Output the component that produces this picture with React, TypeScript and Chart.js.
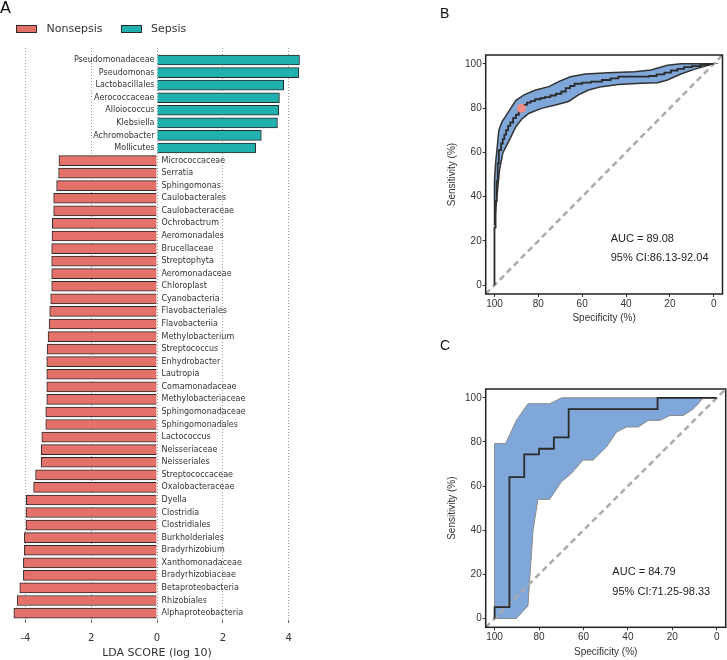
import React, { useEffect, useRef } from 'react';
import { Chart, registerables } from 'chart.js';

Chart.register(...registerables);

// ---------- Panel A: LEfSe LDA scores ----------
const sepsisTaxa = [
  'Pseudomonadaceae', 'Pseudomonas', 'Lactobacillales', 'Aerococcaceae',
  'Alloiococcus', 'Klebsiella', 'Achromobacter', 'Mollicutes',
];
const sepsisLDA = [4.33, 4.31, 3.85, 3.72, 3.7, 3.66, 3.17, 3.0];

const nonsepsisTaxa = [
  'Micrococcaceae', 'Serratia', 'Sphingomonas', 'Caulobacterales', 'Caulobacteraceae',
  'Ochrobactrum', 'Aeromonadales', 'Brucellaceae', 'Streptophyta', 'Aeromonadaceae',
  'Chloroplast', 'Cyanobacteria', 'Flavobacteriales', 'Flavobacteriia', 'Methylobacterium',
  'Streptococcus', 'Enhydrobacter', 'Lautropia', 'Comamonadaceae', 'Methylobacteriaceae',
  'Sphingomonadaceae', 'Sphingomonadales', 'Lactococcus', 'Neisseriaceae', 'Neisseriales',
  'Streptococcaceae', 'Oxalobacteraceae', 'Dyella', 'Clostridia', 'Clostridiales',
  'Burkholderiales', 'Bradyrhizobium', 'Xanthomonadaceae', 'Bradyrhizobiaceae',
  'Betaproteobacteria', 'Rhizobiales', 'Alphaproteobacteria',
];
const nonsepsisLDA = [
  2.98, 2.99, 3.05, 3.14, 3.14,
  3.18, 3.19, 3.2, 3.2, 3.2,
  3.2, 3.23, 3.26, 3.28, 3.31,
  3.34, 3.35, 3.35, 3.35, 3.35,
  3.38, 3.38, 3.5, 3.52, 3.52,
  3.69, 3.75, 3.97, 3.98, 3.98,
  4.03, 4.03, 4.06, 4.06,
  4.17, 4.25, 4.35,
];
const ldaTicks = [-4, -2, 0, 2, 4];
const ldaTickLabels = ['-4', '2', '0', '2', '4'];

// ---------- Panels B and C: ROC curves ----------
const rocTicks = [0, 20, 40, 60, 80, 100];
const diagSpec = [104, -4];
const diagSens = [-4, 104];

// B
const bCurveSpec = [100, 100, 99.5, 99, 98.5, 98, 97, 96.2, 95.5, 94.7, 93.8, 92.8, 91.5, 90.2, 88.9, 87.7, 86.5, 85.2, 83.5, 81.5, 79, 77, 74.5, 72, 69.5, 67.5, 65.5, 63.5, 60, 56, 51, 47, 43.5, 38, 33, 29.5, 26, 22.5, 19.5, 16.5, 13.5, 10, 6, 3, 0];
const bCurveSens = [0, 26, 38, 47, 55, 61, 64, 66, 68, 70, 72, 73.5, 75.5, 77, 78.5, 80, 81.5, 82.5, 83.2, 84, 84.5, 85, 85.7, 86.5, 87.5, 89, 90, 91, 91.5, 92, 92.7, 93.4, 94.2, 94.2, 94.2, 94.5, 95.2, 96, 97, 97.7, 98.5, 99, 99.6, 100, 100];
const bUpperSpec = [100, 99.5, 98.7, 98, 96.5, 95.5, 93.2, 90.2, 86.5, 81.2, 75.2, 70.7, 65.4, 58.6, 48.1, 36.1, 28.6, 21.1, 15, 0];
const bUpperSens = [47, 55, 63, 70, 74, 75.4, 79, 83.5, 86, 88.2, 89.7, 92, 94.2, 95.4, 96, 96.4, 97.2, 99.4, 100, 100];
const bLowerSpec = [100, 99.2, 97.7, 96.2, 94.7, 92.5, 90.2, 87.2, 84.2, 78.2, 72.2, 66.2, 61.7, 57.1, 51.1, 43.6, 33.1, 25.6, 21.1, 15, 9, 0];
const bLowerSens = [27, 37, 52, 59.7, 62.7, 67, 71.7, 75.4, 77.7, 80, 81.4, 83, 86, 88.2, 89.7, 90.7, 91.2, 91.5, 92.7, 95.4, 97.5, 100];
const bCutoffSpec = [87.7];
const bCutoffSens = [79.9];
const bStats = ['AUC = 89.08', '95% CI:86.13-92.04'];

// C
const cCurveSpec = [100, 100, 93.33, 86.67, 80, 73.33, 66.67, 26.67, 0];
const cCurveSens = [0, 5.13, 64.1, 74.36, 76.92, 82.05, 94.87, 100, 100];
const cUpperSpec = [100, 95, 90.2, 85, 75.2, 69.9, 0];
const cUpperSens = [79.3, 79.3, 89.8, 97.3, 97.3, 100, 100];
const cLowerSpec = [100, 90.2, 85, 82.7, 80.5, 75.2, 69.9, 65.4, 60.2, 55.6, 49.6, 45.1, 40.6, 35.3, 30.8, 25.6, 21.1, 15, 10.5, 6, 0];
const cLowerSens = [0, 0, 5.7, 40, 54, 54, 62, 65.8, 71.8, 71.8, 77.8, 84.5, 86.8, 86.8, 89.8, 89.8, 92, 92, 95, 100, 100];
const cStats = ['AUC = 84.79', '95% CI:71.25-98.33'];

const statsSpec = 47;
const statsSens = [21, 12.2];

const pts = (xs: number[], ys: number[]) => xs.map((x, i) => ({ x, y: ys[i] }));

function barConfig(): any {
  const taxaLabels = {
    id: 'taxaLabels',
    afterDatasetsDraw(chart: any) {
      const { ctx, scales } = chart;
      const x0 = scales.x.getPixelForValue(0);
      ctx.save();
      ctx.font = '8px "DejaVu Sans"';
      ctx.fillStyle = '#333';
      ctx.textBaseline = 'middle';
      ctx.textAlign = 'right';
      sepsisTaxa.forEach((t, i) => ctx.fillText(t, x0 - 2.5, scales.y.getPixelForValue(i)));
      ctx.textAlign = 'left';
      nonsepsisTaxa.forEach((t, i) =>
        ctx.fillText(t, x0 + 4.5, scales.y.getPixelForValue(sepsisTaxa.length + i)),
      );
      ctx.restore();
    },
  };
  return {
    type: 'bar',
    data: {
      datasets: [
        {
          label: 'Sepsis',
          data: sepsisLDA.map((v, i) => ({ x: v, y: i })),
          backgroundColor: '#21B0AD',
          borderColor: '#2a2a2a',
          borderWidth: 1,
          barThickness: 10,
          grouped: false,
        },
        {
          label: 'Nonsepsis',
          data: nonsepsisLDA.map((v, i) => ({ x: -v, y: sepsisTaxa.length + i })),
          backgroundColor: '#E4716A',
          borderColor: '#2a2a2a',
          borderWidth: 1,
          barThickness: 10,
          grouped: false,
        },
      ],
    },
    options: {
      indexAxis: 'y',
      responsive: false,
      animation: false,
      layout: { padding: { left: 12.2, right: 8.2, top: 48, bottom: 0 } },
      plugins: { legend: { display: false }, tooltip: { enabled: false } },
      scales: {
        y: {
          type: 'linear',
          display: false,
          offset: false,
          bounds: 'data',
          grace: 0,
          min: -0.955,
          max: 44.55,
          reverse: true,
          afterBuildTicks: (s: any) => {
            s.ticks = [{ value: -0.955 }, { value: 44.55 }];
          },
        },
        x: {
          type: 'linear',
          min: -4.4,
          max: 4.4,
          offset: false,
          afterBuildTicks: (s: any) => {
            s.ticks = ldaTicks.map((v) => ({ value: v }));
          },
          afterFit: (s: any) => {
            s.height = 40;
          },
          ticks: {
            autoSkip: false,
            maxRotation: 0,
            padding: 9.5,
            color: '#333',
            font: { family: 'DejaVu Sans', size: 10 },
            callback: (_v: any, i: number) => ldaTickLabels[i],
          },
          grid: {
            color: '#9a9a9a',
            lineWidth: 1,
            drawTicks: true,
            tickLength: 3,
            tickColor: '#666',
            borderDash: [1, 2],
          },
          border: { display: false, dash: [1, 2] },
          title: {
            display: true,
            text: 'LDA SCORE (log 10)',
            color: '#333',
            font: { family: 'DejaVu Sans', size: 11 },
            padding: { top: 0, bottom: 0 },
          },
        },
      },
    },
    plugins: [taxaLabels],
  };
}

function rocConfig(p: {
  curveSpec: number[]; curveSens: number[];
  upperSpec: number[]; upperSens: number[];
  lowerSpec: number[]; lowerSens: number[];
  cutSpec: number[]; cutSens: number[];
  stats: string[];
  bandBorder: string; bandBorderWidth: number;
  padTop: number; xAxisH: number; titlePadBottom: number;
}): any {
  const upper = pts(p.upperSpec, p.upperSens);
  const lower = pts(p.lowerSpec, p.lowerSens).reverse();
  const band = [...upper, ...lower, upper[0]];
  const frameAndText = {
    id: 'frameAndText',
    afterDatasetsDraw(chart: any) {
      const { ctx, chartArea: a, scales } = chart;
      ctx.save();
      ctx.strokeStyle = '#222';
      ctx.lineWidth = 1.5;
      ctx.strokeRect(a.left, a.top, a.right - a.left, a.bottom - a.top);
      ctx.fillStyle = '#222';
      ctx.font = '11px "Liberation Sans"';
      ctx.textAlign = 'left';
      ctx.textBaseline = 'middle';
      p.stats.forEach((t, i) =>
        ctx.fillText(t, scales.x.getPixelForValue(statsSpec), scales.y.getPixelForValue(statsSens[i])),
      );
      ctx.restore();
    },
  };
  const axisCommon = {
    type: 'linear',
    min: -4,
    max: 104,
    offset: false,
    afterBuildTicks: (s: any) => {
      s.ticks = rocTicks.map((v) => ({ value: v }));
    },
    ticks: {
      autoSkip: false,
      maxRotation: 0,
      padding: 1,
      color: '#333',
      font: { family: 'Liberation Sans', size: 10 },
    },
    grid: {
      display: true,
      drawOnChartArea: false,
      drawTicks: true,
      tickLength: 3,
      tickColor: '#333',
      tickWidth: 1,
    },
    border: { display: false },
  };
  const datasets: any[] = [];
  if (p.cutSpec.length) {
    datasets.push({
      data: pts(p.cutSpec, p.cutSens),
      showLine: false,
      pointRadius: 4.5,
      pointBackgroundColor: '#F28C86',
      pointBorderWidth: 0,
    });
  }
  datasets.push(
    {
      data: pts(p.curveSpec, p.curveSens),
      borderColor: '#2b2b2b',
      borderWidth: 1.8,
      pointRadius: 0,
      stepped: 'before',
      fill: false,
    },
    {
      data: pts(diagSpec, diagSens),
      borderColor: '#ababab',
      borderWidth: 2.5,
      borderDash: [6, 4],
      pointRadius: 0,
      fill: false,
    },
    {
      data: band,
      borderColor: p.bandBorder,
      borderWidth: p.bandBorderWidth,
      backgroundColor: '#7FA7DA',
      pointRadius: 0,
      fill: 'shape',
      tension: 0,
    },
  );
  return {
    type: 'line',
    data: { datasets },
    options: {
      responsive: false,
      animation: false,
      layout: { padding: { top: p.padTop, right: 1.3, left: 0, bottom: 0 } },
      plugins: { legend: { display: false }, tooltip: { enabled: false } },
      scales: {
        x: {
          ...axisCommon,
          reverse: true,
          afterFit: (s: any) => {
            s.height = p.xAxisH;
          },
          title: {
            display: true,
            text: 'Specificity (%)',
            color: '#333',
            font: { family: 'Liberation Sans', size: 10 },
            padding: { top: 0, bottom: p.titlePadBottom },
          },
        },
        y: {
          ...axisCommon,
          afterFit: (s: any) => {
            s.width = 45.7;
          },
          title: {
            display: true,
            text: 'Sensitivity (%)',
            color: '#333',
            font: { family: 'Liberation Sans', size: 10 },
            padding: { top: 6, bottom: 0 },
          },
        },
      },
    },
    plugins: [frameAndText],
  };
}

const abs = (left: number, top: number, extra: any = {}): React.CSSProperties => ({
  position: 'absolute',
  left,
  top,
  ...extra,
});

export default function App() {
  const aRef = useRef<HTMLCanvasElement>(null);
  const bRef = useRef<HTMLCanvasElement>(null);
  const cRef = useRef<HTMLCanvasElement>(null);

  useEffect(() => {
    const charts: Chart[] = [];
    if (aRef.current) charts.push(new Chart(aRef.current, barConfig()));
    if (bRef.current)
      charts.push(
        new Chart(
          bRef.current,
          rocConfig({
            curveSpec: bCurveSpec, curveSens: bCurveSens,
            upperSpec: bUpperSpec, upperSens: bUpperSens,
            lowerSpec: bLowerSpec, lowerSens: bLowerSens,
            cutSpec: bCutoffSpec, cutSens: bCutoffSens,
            stats: bStats,
            bandBorder: '#333', bandBorderWidth: 1.5,
            padTop: 25, xAxisH: 36, titlePadBottom: 6,
          }),
        ),
      );
    if (cRef.current)
      charts.push(
        new Chart(
          cRef.current,
          rocConfig({
            curveSpec: cCurveSpec, curveSens: cCurveSens,
            upperSpec: cUpperSpec, upperSens: cUpperSens,
            lowerSpec: cLowerSpec, lowerSens: cLowerSens,
            cutSpec: [], cutSens: [],
            stats: cStats,
            bandBorder: '#8a8a8a', bandBorderWidth: 1,
            padTop: 29, xAxisH: 32.7, titlePadBottom: 1.3,
          }),
        ),
      );
    return () => charts.forEach((c) => c.destroy());
  }, []);

  const legendText: React.CSSProperties = {
    fontFamily: '"DejaVu Sans"',
    fontSize: 11,
    lineHeight: '11px',
    color: '#333',
    whiteSpace: 'nowrap',
  };
  const box = (bg: string): React.CSSProperties => ({
    width: 21,
    height: 8,
    background: bg,
    border: '1px solid #2a2a2a',
    boxSizing: 'border-box',
  });

  return (
    <div style={{ position: 'absolute', left: 0, top: 0, width: 727, height: 660, background: '#fff', overflow: 'hidden' }}>
      <canvas ref={aRef} width={310} height={660} style={abs(0, 0, { width: 310, height: 660 })} />
      <canvas ref={bRef} width={287} height={300} style={abs(440, 30, { width: 287, height: 300 })} />
      <canvas ref={cRef} width={287} height={300} style={abs(440, 360, { width: 287, height: 300 })} />

      <div style={abs(0, 0, { fontFamily: '"DejaVu Sans"', fontSize: 16, lineHeight: '16px', color: '#111' })}>A</div>
      <div style={abs(440, 5, { fontFamily: '"Liberation Sans"', fontSize: 14, lineHeight: '16px', color: '#111' })}>B</div>
      <div style={abs(440, 337, { fontFamily: '"Liberation Sans"', fontSize: 14, lineHeight: '16px', color: '#111' })}>C</div>

      <div style={abs(16, 25, box('#E4716A'))} />
      <div style={abs(46.5, 23, legendText)}>Nonsepsis</div>
      <div style={abs(121, 25, box('#21B0AD'))} />
      <div style={abs(151, 23, legendText)}>Sepsis</div>
    </div>
  );
}
